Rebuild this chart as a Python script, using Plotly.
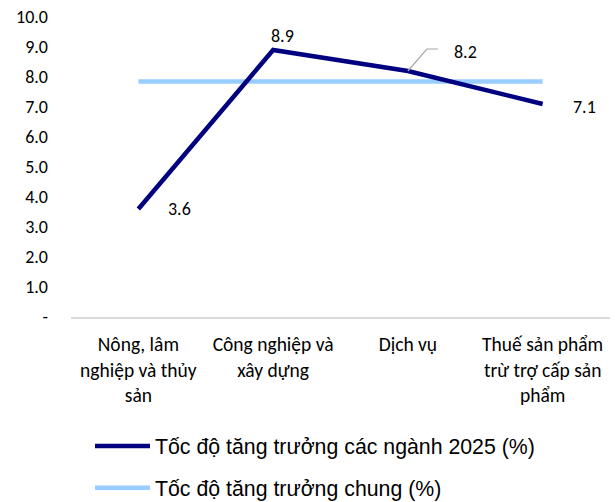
import plotly.graph_objects as go

categories = [
    "Nông, lâm<br>nghiệp và thủy<br>sản",
    "Công nghiệp và<br>xây dựng",
    "Dịch vụ",
    "Thuế sản phẩm<br>trừ trợ cấp sản<br>phẩm",
]
sector_growth = [3.6, 8.9, 8.2, 7.1]
overall_growth = [7.85, 7.85, 7.85, 7.85]
series_names = ["Tốc độ tăng trưởng các ngành 2025 (%)", "Tốc độ tăng trưởng chung (%)"]
y_ticks = [0, 1, 2, 3, 4, 5, 6, 7, 8, 9, 10]
y_tick_labels = ["-", "1.0", "2.0", "3.0", "4.0", "5.0", "6.0", "7.0", "8.0", "9.0", "10.0"]

NAVY = "#000080"
LIGHT = "#99CCFF"
NUM_FONT = dict(family="Carlito, Lato", size=18, color="#000000")
CAT_FONT = dict(family="Carlito, Lato", size=19.5, color="#000000")

xs = list(range(len(categories)))

fig = go.Figure()
# light line first so the navy line is drawn on top
fig.add_trace(go.Scatter(
    x=xs, y=overall_growth, mode="lines", name=series_names[1],
    line=dict(color=LIGHT, width=4.5), legendgroup="b", legendrank=2, hoverinfo="skip",
))
fig.add_trace(go.Scatter(
    x=xs, y=sector_growth, mode="lines", name=series_names[0],
    line=dict(color=NAVY, width=4.5), legendgroup="a", legendrank=1, hoverinfo="skip",
))

# data labels (offsets in pixels)
offsets = [(41, 0), (9, 14), (58, 19), (42, -3)]
for i, (v, (dx, dy)) in enumerate(zip(sector_growth, offsets)):
    fig.add_annotation(x=i, y=v, xref="x", yref="y", text=f"{v:.1f}",
                       showarrow=False, xshift=dx, yshift=dy, font=NUM_FONT)

# leader line for the 8.2 label
fig.add_shape(type="path", xref="x", yref="y", xsizemode="pixel", ysizemode="pixel",
              xanchor=2, yanchor=sector_growth[2],
              path="M0,0 L19,22 L30,22", line=dict(color="#A6A6A6", width=1.2))

fig.update_layout(
    width=615, height=502,
    margin=dict(l=71, r=5, t=17, b=185, autoexpand=False),
    paper_bgcolor="white", plot_bgcolor="white",
    showlegend=True,
    legend=dict(
        x=(90 - 71) / 539, xanchor="left", y=-0.362, yanchor="top",
        orientation="v", traceorder="grouped",
        font=dict(family="Liberation Sans", size=21.3, color="#000000"),
        tracegroupgap=11, itemwidth=55, bgcolor="rgba(0,0,0,0)",
    ),
    xaxis=dict(
        range=[-0.5, 3.5], tickvals=xs, ticktext=categories,
        showgrid=False, zeroline=False, showline=True, linecolor="#D9D9D9", linewidth=1.5,
        ticks="", tickfont=CAT_FONT, ticklabelstandoff=9, automargin=False,
    ),
    yaxis=dict(
        range=[0, 10], tickvals=y_ticks, ticktext=y_tick_labels,
        showgrid=False, zeroline=False, showline=False, ticks="",
        tickfont=NUM_FONT, ticklabelstandoff=22, automargin=False,
    ),
)

fig.write_html("out.html", config={"displayModeBar": False},
               post_script="document.body.style.margin='0px';")
